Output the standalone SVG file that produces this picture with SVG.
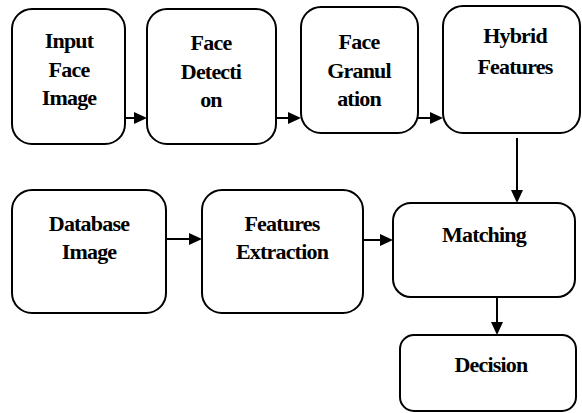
<svg xmlns="http://www.w3.org/2000/svg" width="582" height="413" viewBox="0 0 582 413">
<style>
.box{fill:#fff;stroke:#000;stroke-width:2}
.t{font-family:"Liberation Serif","DejaVu Serif",serif;font-weight:700;font-size:22px;text-anchor:middle;fill:#000;letter-spacing:-0.8px}
.c{stroke:#000;stroke-width:2;fill:none}
.h{fill:#000;stroke:none}
</style>
<rect width="582" height="413" fill="#fff"/>
<g id="input">
<rect class="box" x="12" y="9" width="113" height="135" rx="20"/>
<text class="t" x="69" y="48">Input</text>
<text class="t" x="69" y="77">Face</text>
<text class="t" x="69" y="105">Image</text>
</g>
<g id="detection">
<rect class="box" x="147" y="9" width="129" height="135" rx="20"/>
<text class="t" x="211" y="50">Face</text>
<text class="t" x="211" y="79">Detecti</text>
<text class="t" x="211" y="107">on</text>
</g>
<g id="granulation">
<rect class="box" x="301" y="7" width="117" height="126" rx="20"/>
<text class="t" x="359" y="49">Face</text>
<text class="t" x="359" y="78">Granul</text>
<text class="t" x="359" y="106">ation</text>
</g>
<g id="hybrid">
<rect class="box" x="443" y="6" width="137" height="127" rx="20"/>
<text class="t" x="515" y="43">Hybrid</text>
<text class="t" x="515" y="74">Features</text>
</g>
<g id="database">
<rect class="box" x="12" y="190" width="154" height="123" rx="20"/>
<text class="t" x="89" y="231">Database</text>
<text class="t" x="89" y="259">Image</text>
</g>
<g id="extraction">
<rect class="box" x="202" y="190" width="161" height="123" rx="20"/>
<text class="t" x="282" y="231">Features</text>
<text class="t" x="282" y="259">Extraction</text>
</g>
<g id="matching">
<rect class="box" x="393" y="203" width="182" height="94" rx="18"/>
<text class="t" x="484" y="242">Matching</text>
</g>
<g id="decision">
<rect class="box" x="400" y="335" width="176" height="76" rx="14"/>
<text class="t" x="491" y="372">Decision</text>
</g>
<g id="connectors">
<line class="c" x1="125" y1="118" x2="136" y2="118"/>
<path class="h" d="M134,112 L147,118 L134,124 Z"/>
<line class="c" x1="276" y1="118" x2="290" y2="118"/>
<path class="h" d="M288,112 L301,118 L288,124 Z"/>
<line class="c" x1="418" y1="118" x2="432" y2="118"/>
<path class="h" d="M430,112 L443,118 L430,124 Z"/>
<line class="c" x1="517" y1="138" x2="517" y2="192"/>
<path class="h" d="M511,190 L517,203 L523,190 Z"/>
<line class="c" x1="166" y1="239" x2="191" y2="239"/>
<path class="h" d="M189,233 L202,239 L189,245 Z"/>
<line class="c" x1="363" y1="240" x2="382" y2="240"/>
<path class="h" d="M380,234 L393,240 L380,246 Z"/>
<line class="c" x1="497" y1="297" x2="497" y2="324"/>
<path class="h" d="M491,322 L497,335 L503,322 Z"/>
</g>
</svg>
